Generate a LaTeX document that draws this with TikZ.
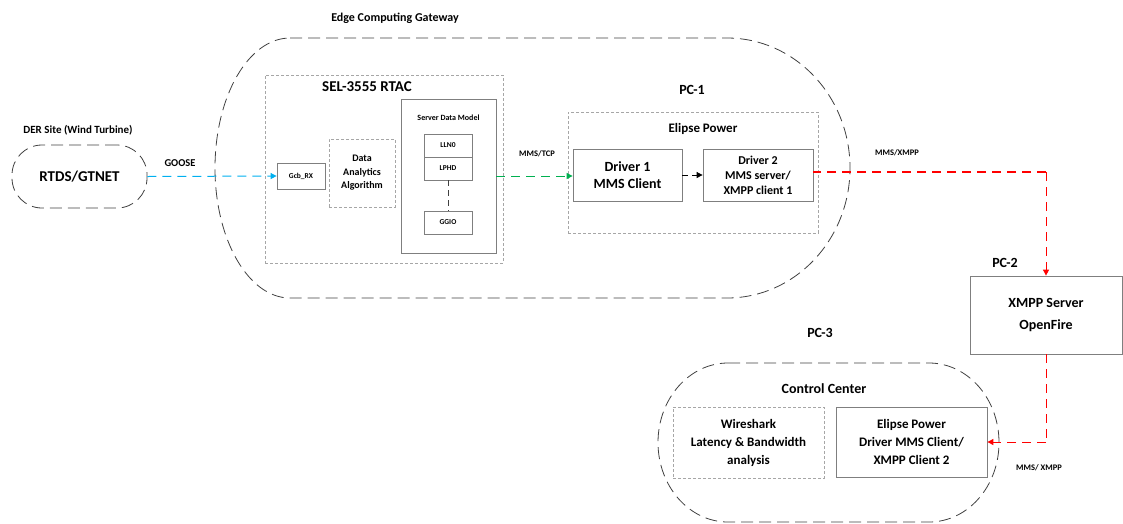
\documentclass[tikz,border=0pt]{standalone}
\usepackage{fontspec}
\setmainfont{Carlito}
\usetikzlibrary{arrows.meta}
\definecolor{gwline}{HTML}{404040}
\definecolor{boxline}{HTML}{7F7F7F}
\definecolor{dashbox}{HTML}{A6A6A6}
\definecolor{cblue}{HTML}{00B0F0}
\definecolor{cgreen}{HTML}{00B050}
\definecolor{cred}{HTML}{FF0000}
\tikzset{
  every node/.style={font=\bfseries, align=center, inner sep=0pt},
  solidbox/.style={draw=boxline, line width=0.8pt, minimum width=#1},
  dbox/.style={draw=dashbox, line width=0.8pt, dash pattern=on 3pt off 2pt},
  bigdash/.style={draw=gwline, line width=0.8pt, dash pattern=on 12pt off 6pt},
  connline/.style={line width=1pt, dash pattern=on 9pt off 6pt},
  conn/.style={connline, -{Triangle[length=6pt,width=6pt]}},
}
\begin{document}
\begin{tikzpicture}[x=1pt,y=-1pt]
\useasboundingbox (0,0) rectangle (1123,523);
% Gateway outline
\draw[bigdash] (290,38) -- (727,38) .. controls (794.9,38) and (850,96.2) .. (850,168)
  .. controls (850,239.8) and (794.9,298) .. (727,298) -- (290,298)
  .. controls (248.6,298) and (215,239.8) .. (215,168)
  .. controls (215,96.2) and (248.6,38) .. cycle;
\node[font=\bfseries\fontsize{12}{14}\selectfont] (gwt) at (395,18) {Edge Computing Gateway};
% DER site
\node[font=\bfseries\fontsize{11}{13}\selectfont] (dert) at (78,130) {DER Site (Wind Turbine)};
\node[bigdash, rounded corners=30pt, minimum width=135pt, minimum height=63pt,
  font=\bfseries\fontsize{15}{17}\selectfont] (rtds) at (79.5,176.5) {RTDS/GTNET};
\node[font=\bfseries\fontsize{10.5}{12}\selectfont] (goose) at (180,163) {GOOSE};
% RTAC
\node[dbox, minimum width=238pt, minimum height=188pt] (rtac) at (384,169) {};
\node[font=\bfseries\fontsize{15}{17}\selectfont] (rtact) at (367,87) {SEL-3555 RTAC};
\node[solidbox=48pt, minimum height=26pt, font=\bfseries\fontsize{7.5}{9}\selectfont] (gcb) at (301,176) {Gcb\_RX};
\node[dbox, minimum width=66pt, minimum height=68pt, font=\bfseries\fontsize{10}{13.5}\selectfont] (daa) at (362,173) {Data\\Analytics\\Algorithm};
\node[solidbox=95pt, minimum height=154pt] (sdm) at (448.5,176) {};
\node[font=\bfseries\fontsize{8}{10}\selectfont] (sdmt) at (448.5,118) {Server Data Model};
\node[solidbox=48pt, minimum height=23pt, font=\bfseries\fontsize{7.5}{9}\selectfont] (lln) at (448,145.5) {LLN0};
\node[solidbox=48pt, minimum height=23pt, font=\bfseries\fontsize{7.5}{9}\selectfont] (lphd) at (448,168.5) {LPHD};
\node[solidbox=48pt, minimum height=23pt, font=\bfseries\fontsize{7.5}{9}\selectfont] (ggio) at (448,222.5) {GGIO};
\draw[draw=gwline, line width=0.8pt, dash pattern=on 6pt off 4pt] (lphd.south) -- (ggio.north);
% PC-1
\node[font=\bfseries\fontsize{14}{16}\selectfont] (pc1) at (692,90) {PC-1};
\node[dbox, minimum width=250pt, minimum height=121pt] (elp) at (693,172.5) {};
\node[font=\bfseries\fontsize{13}{15}\selectfont] (elpt) at (703,129) {Elipse Power};
\node[solidbox=109pt, minimum height=52pt, font=\bfseries\fontsize{14}{17}\selectfont] (drv1) at (627.5,175) {Driver 1\\MMS Client};
\node[solidbox=110pt, minimum height=52pt, font=\bfseries\fontsize{12}{15}\selectfont] (drv2) at (758,175) {Driver 2\\MMS server/\\XMPP client 1};
\node[font=\bfseries\fontsize{8.5}{10}\selectfont] (mmstcp) at (537,154) {MMS/TCP};
\node[font=\bfseries\fontsize{8.5}{10}\selectfont] (mmsx1) at (897,153) {MMS/XMPP};
% PC-2
\node[font=\bfseries\fontsize{14}{16}\selectfont] (pc2) at (1005,263) {PC-2};
\node[solidbox=152pt, minimum height=78pt, font=\bfseries\fontsize{14}{22}\selectfont] (xmpp) at (1046,315) {XMPP Server\\OpenFire};
% PC-3
\node[font=\bfseries\fontsize{14}{16}\selectfont] (pc3) at (820,333) {PC-3};
\draw[bigdash] (728,363) -- (929,363) .. controls (967.7,363) and (999,398.6) .. (999,442.5)
  .. controls (999,486.4) and (967.7,522) .. (929,522) -- (728,522)
  .. controls (689.3,522) and (658,486.4) .. (658,442.5)
  .. controls (658,398.6) and (689.3,363) .. cycle;
\node[font=\bfseries\fontsize{14}{16}\selectfont] (cct) at (824,389) {Control Center};
\node[dbox, minimum width=151pt, minimum height=71pt, font=\bfseries\fontsize{13}{18}\selectfont] (wire) at (748.5,442.5) {Wireshark\\Latency \& Bandwidth\\analysis};
\node[solidbox=151pt, minimum height=70pt, font=\bfseries\fontsize{13}{18}\selectfont] (epd) at (911.5,442) {Elipse Power\\Driver MMS Client/\\XMPP Client 2};
\node[font=\bfseries\fontsize{8.5}{10}\selectfont] (mmsx2) at (1039,468) {MMS/ XMPP};
% connectors
\draw[conn, color=cblue] (rtds.east) -- (gcb.west);
\draw[conn, color=cgreen] (sdm.east) -- (sdm.east -| drv1.west);
\draw[line width=0.8pt, dash pattern=on 6pt off 4pt, -{Triangle[length=6pt,width=6pt]}, color=black] (drv1.east) -- (drv1.east -| drv2.west);
\coordinate (rc1) at ([yshift=3pt]drv2.east -| xmpp.north);
\coordinate (rc2) at (xmpp.south |- epd.east);
\draw[line width=1.4pt, dash pattern=on 9pt off 6pt, draw=cred] (rc1) -- ([yshift=3pt]drv2.east);
\draw[conn, color=cred] (rc1) -- (xmpp.north);
\draw[connline, color=cred] (xmpp.south) -- (rc2);
\draw[conn, color=cred] (rc2) -- (epd.east);
\end{tikzpicture}
\end{document}
